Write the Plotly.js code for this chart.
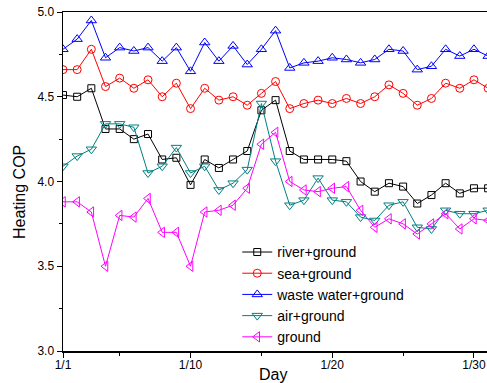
<!DOCTYPE html>
<html>
<head>
<meta charset="utf-8">
<script src="https://cdn.plot.ly/plotly-3.0.1.min.js"></script>
<style>html,body{margin:0;padding:0;background:#fff;}#chart{width:487px;height:383px;}</style>
</head>
<body>
<div id="chart"></div>
<script>
const days = [1,2,3,4,5,6,7,8,9,10,11,12,13,14,15,16,17,18,19,20,21,22,23,24,25,26,27,28,29,30,31];
const tickVals = [1,10,20,30];
const tickText = ['1/1','1/10','1/20','1/30'];
const riverGround = [4.51,4.50,4.55,4.31,4.31,4.25,4.28,4.13,4.14,3.98,4.13,4.08,4.13,4.18,4.42,4.48,4.18,4.13,4.13,4.13,4.12,4.00,3.94,3.99,3.97,3.87,3.92,3.99,3.93,3.96,3.96];
const seaGround = [4.66,4.66,4.78,4.56,4.61,4.55,4.60,4.50,4.58,4.43,4.55,4.48,4.50,4.45,4.52,4.59,4.43,4.46,4.48,4.46,4.49,4.46,4.50,4.57,4.52,4.45,4.49,4.58,4.55,4.60,4.55];
const wasteWaterGround = [4.78,4.84,4.95,4.73,4.79,4.77,4.79,4.71,4.79,4.65,4.82,4.71,4.80,4.69,4.78,4.89,4.67,4.70,4.71,4.73,4.72,4.70,4.72,4.78,4.77,4.66,4.68,4.78,4.74,4.78,4.74];
const airGround = [4.09,4.15,4.19,4.34,4.34,4.32,4.05,4.09,4.20,4.05,4.09,3.95,3.99,4.07,4.46,4.12,3.86,3.89,4.02,3.89,3.88,3.79,3.77,3.86,3.88,3.73,3.72,3.83,3.81,3.81,3.83];
const groundOnly = [3.88,3.88,3.82,3.50,3.80,3.79,3.90,3.70,3.70,3.50,3.82,3.83,3.86,3.96,4.22,4.29,4.00,3.95,3.94,3.96,3.97,3.83,3.73,3.78,3.75,3.69,3.75,3.81,3.72,3.78,3.77];

const seriesDefs = [
  {name:'river+ground', y: riverGround, color:'#000000', symbol:'square-open', size:7},
  {name:'sea+ground', y: seaGround, color:'#ff0000', symbol:'circle-open', size:8},
  {name:'waste water+ground', y: wasteWaterGround, color:'#0000ff', symbol:'triangle-up-open', size:9},
  {name:'air+ground', y: airGround, color:'#008080', symbol:'triangle-down-open', size:9},
  {name:'ground', y: groundOnly, color:'#ff00ff', symbol:'triangle-left-open', size:9}
];

const traces = seriesDefs.map(s => ({
  x: days, y: s.y, name: s.name, type: 'scatter', mode: 'lines+markers',
  line: {color: s.color, width: 1},
  marker: {symbol: s.symbol, size: s.size, color: s.color, line: {color: s.color, width: 1}},
  cliponaxis: true
}));

const font = 'Arial, "Liberation Sans", sans-serif';
const layout = {
  width: 487, height: 383,
  margin: {l: 63, r: 0, t: 12, b: 32, pad: 0},
  paper_bgcolor: '#fff', plot_bgcolor: '#fff',
  font: {family: font, color: '#000', size: 12},
  showlegend: true,
  legend: {
    x: 0.411, y: 0.338, xanchor: 'left', yanchor: 'top',
    bgcolor: 'rgba(0,0,0,0)', borderwidth: 0,
    font: {family: font, size: 14, color: '#000'},
    tracegroupgap: 0
  },
  xaxis: {
    range: [1, 30.92], showgrid: false, zeroline: false,
    showline: true, linecolor: '#000', linewidth: 1.5, mirror: true,
    ticks: 'outside', ticklen: 5, tickwidth: 1, tickcolor: '#000',
    tickmode: 'array', tickvals: tickVals, ticktext: tickText,
    ticklabelstandoff: -3,
    tickfont: {family: font, size: 12, color: '#000'},
    minor: {tickmode: 'array', tickvals: [5,15,25], ticks: 'outside', ticklen: 3, tickcolor: '#000', tickwidth: 1, showgrid: false}
  },
  yaxis: {
    range: [3, 5], showgrid: false, zeroline: false,
    showline: true, linecolor: '#000', linewidth: 1.5, mirror: false,
    ticks: 'outside', ticklen: 5, tickwidth: 1, tickcolor: '#000',
    tickmode: 'linear', tick0: 3, dtick: 0.5, tickformat: '.1f',
    tickfont: {family: font, size: 12, color: '#000'},
    minor: {tickmode: 'linear', tick0: 3.25, dtick: 0.5, ticks: 'outside', ticklen: 3, tickcolor: '#000', tickwidth: 1, showgrid: false}
  },
  annotations: [
    {text: 'Day', xref: 'paper', yref: 'paper', x: 0.4953, y: -0.0693, xanchor: 'center', yanchor: 'middle', showarrow: false, font: {family: font, size: 16, color: '#000'}},
    {text: 'Heating COP', xref: 'paper', yref: 'paper', x: -0.1038, y: 0.469, xanchor: 'center', yanchor: 'middle', textangle: -90, showarrow: false, font: {family: font, size: 16, color: '#000'}}
  ]
};

Plotly.newPlot('chart', traces, layout, {displayModeBar: false, staticPlot: true});
</script>
</body>
</html>
